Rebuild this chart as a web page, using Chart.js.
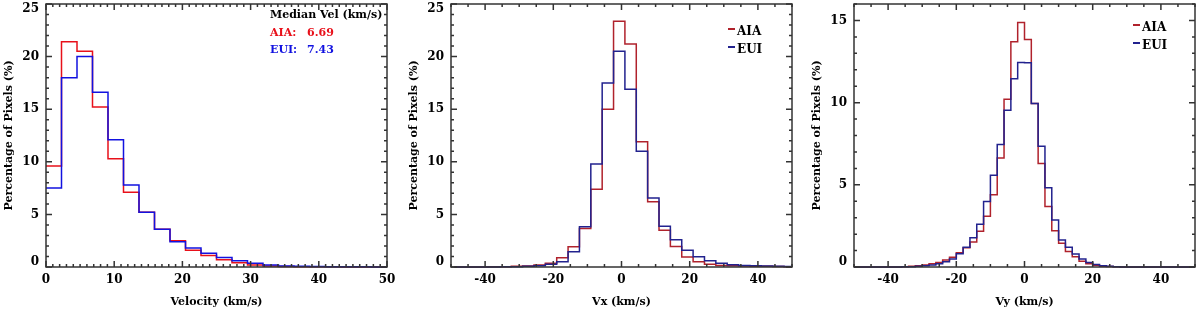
<!DOCTYPE html>
<html>
<head>
<meta charset="utf-8">
<script src="https://cdn.jsdelivr.net/npm/chart.js@4.4.1/dist/chart.umd.min.js"></script>
<style>
  body { margin: 0; background: #fff; width: 1200px; height: 314px; overflow: hidden; display: flex; }
  canvas { display: block; }
</style>
</head>
<body>
<canvas id="c1" width="400" height="314"></canvas>
<canvas id="c2" width="400" height="314"></canvas>
<canvas id="c3" width="400" height="314"></canvas>
<script>
// histogram bins: first bin edge, bin width, percentage of pixels per bin
const velStart = 0;
const velWidth = 50 / 22;
const velAIA = [9.6, 21.4, 20.5, 15.2, 10.3, 7.1, 5.2, 3.6, 2.5, 1.6, 1.1, 0.7, 0.4, 0.2, 0.1, 0.05, 0.03, 0.02, 0.02, 0.01, 0.01, 0.01];
const velEUI = [7.5, 18.0, 20.0, 16.6, 12.1, 7.8, 5.2, 3.6, 2.4, 1.8, 1.3, 0.9, 0.6, 0.35, 0.2, 0.1, 0.06, 0.04, 0.03, 0.02, 0.02, 0.01];
const medianAIA = '6.69';
const medianEUI = '7.43';

const vxStart = -49;
const vxWidth = 10 / 3;
const vxAIA = [0, 0.01, 0.01, 0.02, 0.03, 0.06, 0.1, 0.19, 0.35, 0.89, 1.93, 3.65, 7.4, 15.0, 23.35,
               21.2, 11.9, 6.2, 3.5, 1.95, 0.95, 0.5, 0.25, 0.15, 0.12, 0.1, 0.08, 0.06, 0.04, 0.03];
const vxEUI = [0, 0, 0.01, 0.01, 0.02, 0.03, 0.06, 0.12, 0.25, 0.5, 1.45, 3.83, 9.8, 17.5, 20.5,
               16.9, 11.0, 6.55, 3.88, 2.6, 1.6, 0.98, 0.6, 0.35, 0.22, 0.15, 0.12, 0.09, 0.06, 0.04];

const vyStart = -50;
const vyWidth = 2;
const vyAIA = [0, 0, 0, 0, 0, 0, 0, 0.02, 0.05, 0.08, 0.12, 0.2, 0.28, 0.42, 0.6, 0.87, 1.17, 1.52, 2.17, 3.08,
               4.4, 6.63, 10.2, 13.7, 14.88, 13.84, 9.94, 6.29, 3.68, 2.2, 1.44, 0.95, 0.63, 0.35, 0.2, 0.1, 0.05, 0.03, 0.01, 0,
               0, 0, 0, 0, 0, 0, 0, 0, 0, 0];
const vyEUI = [0, 0, 0, 0, 0, 0, 0, 0.01, 0.02, 0.04, 0.08, 0.12, 0.2, 0.32, 0.49, 0.8, 1.2, 1.78, 2.6, 3.98,
               5.58, 7.46, 9.53, 11.46, 12.44, 12.42, 9.94, 7.35, 4.82, 2.86, 1.64, 1.2, 0.79, 0.49, 0.28, 0.15, 0.08, 0.04, 0.02, 0,
               0, 0, 0, 0, 0, 0, 0, 0, 0, 0];

// labelled ticks
const velTicks = [0, 10, 20, 30, 40, 50];
const vTicks = [-40, -20, 0, 20, 40];
const pctTicks25 = [0, 5, 10, 15, 20, 25];
const pctTicks16 = [0, 5, 10, 15];

const FONT = '"DejaVu Serif", serif';

// left bin edges + closing edge so the last bin gets its top drawn
function toSteps(start, width, values) {
  const pts = values.map((v, i) => ({ x: start + i * width, y: v }));
  pts.push({ x: start + values.length * width, y: values[values.length - 1] });
  return pts;
}

// box round the plot with inward major/minor ticks on all four sides
const frame = {
  id: 'frame',
  afterDatasetsDraw(chart, args, opts) {
    const { ctx, chartArea: a, scales: { x, y } } = chart;
    const isMajor = (v, step) => Math.abs(v / step - Math.round(v / step)) < 1e-6;
    ctx.save();
    ctx.strokeStyle = '#333';
    ctx.lineWidth = 1.5;
    ctx.strokeRect(a.left, a.top, a.right - a.left, a.bottom - a.top);
    ctx.beginPath();
    for (let v = x.min; v <= x.max + 1e-6; v += opts.xMinor) {
      const p = x.getPixelForValue(v);
      const len = isMajor(v, opts.xMajor) ? 6 : 3;
      ctx.moveTo(p, a.bottom); ctx.lineTo(p, a.bottom - len);
      ctx.moveTo(p, a.top); ctx.lineTo(p, a.top + len);
    }
    for (let v = y.min; v <= y.max + 1e-6; v += opts.yMinor) {
      const p = y.getPixelForValue(v);
      const len = isMajor(v, opts.yMajor) ? 6 : 3;
      ctx.moveTo(a.left, p); ctx.lineTo(a.left + len, p);
      ctx.moveTo(a.right, p); ctx.lineTo(a.right - len, p);
    }
    ctx.stroke();
    ctx.restore();
  }
};

// legend / annotation text in the top right corner
const notes = {
  id: 'notes',
  afterDraw(chart, args, opts) {
    const { ctx, chartArea: a } = chart;
    ctx.save();
    ctx.font = 'bold ' + opts.size + 'px ' + FONT;
    ctx.textBaseline = 'middle';
    ctx.textAlign = 'left';
    for (const it of opts.items || []) {
      const tx = a.right + it.dx, ty = a.top + it.dy;
      if (it.dash) {
        ctx.strokeStyle = it.dash;
        ctx.lineWidth = 2;
        ctx.beginPath();
        ctx.moveTo(tx - 9, ty - 3);
        ctx.lineTo(tx - 2, ty - 3);
        ctx.stroke();
      }
      ctx.fillStyle = it.color;
      ctx.fillText(it.text, tx, ty);
    }
    ctx.restore();
  }
};

function makeChart(id, o) {
  const tickFont = { family: FONT, size: 12, weight: 'bold', lineHeight: 0.85 };
  const titleFont = { family: FONT, size: 11, weight: 'bold' };
  return new Chart(document.getElementById(id), {
    type: 'line',
    data: {
      datasets: [
        { label: 'AIA', data: toSteps(o.start, o.width, o.aia), borderColor: o.red, order: 1 },
        { label: 'EUI', data: toSteps(o.start, o.width, o.eui), borderColor: o.blue, order: 0 }
      ]
    },
    options: {
      responsive: false,
      animation: false,
      devicePixelRatio: 1,
      layout: { padding: { top: 4, right: o.padRight, left: 0, bottom: 0 } },
      elements: {
        point: { radius: 0 },
        line: { borderWidth: 1.5, stepped: true, fill: false }
      },
      datasets: { line: { clip: { left: 0, right: 0, top: 4, bottom: 2 } } },
      plugins: {
        legend: { display: false },
        tooltip: { enabled: false },
        frame: { xMajor: o.xStep, xMinor: o.xMinor, yMajor: 5, yMinor: 1 },
        notes: { items: o.notes, size: o.noteSize }
      },
      scales: {
        x: {
          type: 'linear',
          min: o.xMin,
          max: o.xMax,
          grid: { display: false, drawTicks: false },
          border: { display: false },
          afterBuildTicks: s => { s.ticks = o.xTicks.map(v => ({ value: v })); },
          ticks: { autoSkip: false, maxRotation: 0, font: tickFont, color: '#000', padding: 8 },
          title: { display: true, text: o.xTitle, font: titleFont, color: '#000', padding: { top: 0, bottom: 5 } },
          afterFit: s => { s.height = 47; s.paddingLeft = 0; s.paddingRight = 0; }
        },
        y: {
          min: 0,
          max: o.yMax,
          grid: { display: false, drawTicks: false },
          border: { display: false },
          afterBuildTicks: s => { s.ticks = o.yTicks.map(v => ({ value: v })); },
          ticks: {
            autoSkip: false, font: tickFont, color: '#000', padding: 7,
            callback: v => v === 0 ? ['0', ''] : (v === 25 ? ['', '25'] : String(v))
          },
          title: { display: true, text: 'Percentage of Pixels (%)', font: titleFont, color: '#000', padding: { top: o.yTitlePad, bottom: 0 } },
          afterFit: s => { s.width = o.yWidth; s.paddingTop = 0; s.paddingBottom = 0; }
        }
      }
    },
    plugins: [frame, notes]
  });
}

const red1 = '#e8101a', blue1 = '#1212e0';
const red2 = '#b0222c', blue2 = '#22228e';

makeChart('c1', {
  start: velStart, width: velWidth, aia: velAIA, eui: velEUI,
  red: red1, blue: blue1,
  xMin: 0, xMax: 50, xStep: 10, xMinor: 1, xTicks: velTicks, yMax: 25, yTicks: pctTicks25,
  xTitle: 'Velocity (km/s)', yWidth: 46, padRight: 13, yTitlePad: 3, noteSize: 11,
  notes: [
    { text: 'Median Vel (km/s)', color: '#000', dx: -117, dy: 11 },
    { text: 'AIA:', color: red1, dx: -117, dy: 29 },
    { text: medianAIA, color: red1, dx: -80, dy: 29 },
    { text: 'EUI:', color: blue1, dx: -117, dy: 46 },
    { text: medianEUI, color: blue1, dx: -80, dy: 46 }
  ]
});

makeChart('c2', {
  start: vxStart, width: vxWidth, aia: vxAIA, eui: vxEUI,
  red: red2, blue: blue2,
  xMin: -50, xMax: 50, xStep: 20, xMinor: 5, xTicks: vTicks, yMax: 25, yTicks: pctTicks25,
  xTitle: 'Vx (km/s)', yWidth: 51, padRight: 8, yTitlePad: 8, noteSize: 12,
  notes: [
    { text: 'AIA', color: '#000', dx: -55, dy: 28, dash: red2 },
    { text: 'EUI', color: '#000', dx: -55, dy: 46, dash: blue2 }
  ]
});

makeChart('c3', {
  start: vyStart, width: vyWidth, aia: vyAIA, eui: vyEUI,
  red: red2, blue: blue2,
  xMin: -50, xMax: 50, xStep: 20, xMinor: 5, xTicks: vTicks, yMax: 16, yTicks: pctTicks16,
  xTitle: 'Vy (km/s)', yWidth: 54, padRight: 5, yTitlePad: 11, noteSize: 12,
  notes: [
    { text: 'AIA', color: '#000', dx: -53, dy: 24, dash: red2 },
    { text: 'EUI', color: '#000', dx: -53, dy: 42, dash: blue2 }
  ]
});
</script>
</body>
</html>
